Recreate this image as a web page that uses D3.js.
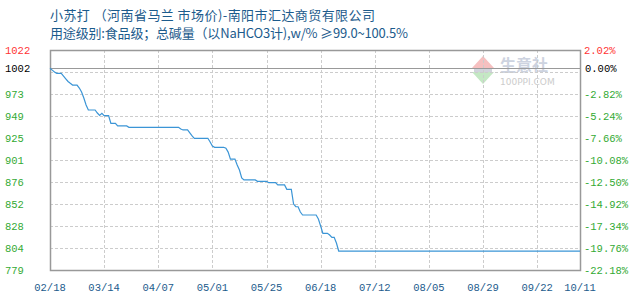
<!DOCTYPE html>
<html>
<head>
<meta charset="utf-8">
<script src="https://cdn.jsdelivr.net/npm/d3@7"></script>
<style>
  html, body { margin: 0; padding: 0; background: #fff; }
  svg { display: block; }
  .title { font-family: "Noto Sans CJK SC", sans-serif; font-size: 13px; fill: #1c5b8c; }
  .num { font-family: "Liberation Mono", "DejaVu Sans Mono", monospace; font-size: 10.5px; }
</style>
</head>
<body>
<svg id="chart" width="630" height="300"></svg>
<script>
// Title lines
const titleLines = [
    '小苏打 （河南省马兰 市场价)-南阳市汇达商贸有限公司',
    '用途级别:食品级；总碱量（以NaHCO3计),w/% ≥99.0~100.5%'
];
const titleWidths = [325, 358];

// Price series (month-day, year 2019)
const dates = ['02-18','02-19','02-20','02-21','02-23','02-24','02-25','02-26','02-27','02-28',
    '03-02','03-03','03-04','03-05','03-06','03-07','03-10','03-11','03-12','03-13','03-14','03-16','03-17','03-19','03-20','03-24','03-25',
    '04-16','04-17','04-18','04-20','04-21','04-22','04-23','04-29','04-30',
    '05-01','05-02','05-06','05-07','05-08','05-09','05-11','05-12','05-13','05-14','05-15','05-20','05-21','05-25','05-26','05-29','05-30',
    '06-02','06-03','06-05','06-06','06-07','06-08','06-09','06-10','06-16','06-17','06-18','06-19','06-21','06-22','06-23','06-24','06-25','06-26',
    '10-11'];
const prices = [1002, 1000, 998, 996.5, 996.5, 993.5, 990.5, 987.5, 985.5, 983.6,
    983.6, 980.3, 976, 969.3, 961.6, 956.1, 956.1, 952.8, 950.2, 952.4, 949.8, 949.8, 941.4, 941.4, 938.5, 938.5, 937.0,
    937.0, 935.2, 934.1, 934.1, 930.8, 927.5, 924.9, 924.9, 920.8,
    916.4, 915.0, 915.0, 913.9, 909.7, 902, 902, 895.5, 890, 881.2, 879, 879, 877.5, 877.5, 876, 876, 873.5,
    873.5, 868.7, 868.7, 852.5, 849.5, 849.5, 843.7, 840.4, 840.4, 836, 828.3, 820.2, 820.2, 818.4, 815.8, 815.8, 809.5, 800.7,
    800.7];

// Axis labels
const xTickLabels = ['02/18','03/14','04/07','05/01','05/25','06/18','07/12','08/05','08/29','09/22','10/11'];
const baseValue = 1002;
const yMin = 779.8;
const yMax = 1022.2;
const yTickCount = 10;

const year = 2019;
const parse = d3.timeParse('%Y-%m-%d');
const series = dates.map((d, i) => ({ date: parse(`${year}-${d}`), value: prices[i] }));
const xTicks = xTickLabels.map(s => parse(`${year}-${s.replace('/', '-')}`));

const svg = d3.select('#chart');
const margin = { left: 50, right: 50, top: 50, bottom: 30 };
const width = 630, height = 300;
const innerRight = width - margin.right;
const innerBottom = height - margin.bottom;

const x = d3.scaleTime()
    .domain([xTicks[0], xTicks[xTicks.length - 1]])
    .range([margin.left, innerRight]);
const y = d3.scaleLinear()
    .domain([yMin, yMax])
    .range([innerBottom, margin.top]);

const yTicks = d3.range(yTickCount + 1).map(i => yMin + (yMax - yMin) * i / yTickCount);

// Titles
svg.selectAll('.title')
    .data(titleLines)
    .enter()
    .append('text')
    .attr('class', 'title')
    .attr('x', 50)
    .attr('y', (d, i) => 20 + i * 18)
    .attr('textLength', (d, i) => titleWidths[i])
    .attr('lengthAdjust', 'spacing')
    .text(d => d);

// Watermark
const wm = svg.append('g').attr('transform', 'translate(472,56)');
wm.append('path').attr('d', 'M0,12 L11,0 L22,12 Z').attr('fill', '#f6c0c0');
wm.append('rect').attr('x', 2).attr('y', 12).attr('width', 18).attr('height', 4).attr('fill', '#d0d4dc');
wm.append('path').attr('d', 'M0,16 L11,28 L22,16 Z').attr('fill', '#c4e8c4');
wm.append('text').attr('x', 28).attr('y', 15)
    .style('font-family', '"Noto Sans CJK SC", sans-serif').style('font-size', '16px')
    .style('font-weight', 'bold').attr('fill', '#cdd3e0').text('生意社');
wm.append('text').attr('x', 28).attr('y', 29)
    .style('font-family', '"DejaVu Sans", sans-serif').style('font-size', '9px')
    .attr('fill', '#cccccc').text('100PPI.COM');

// Grid
const grid = svg.append('g');
grid.selectAll('.hgrid')
    .data(yTicks.slice(1, -1))
    .enter()
    .append('line')
    .attr('x1', margin.left).attr('x2', innerRight)
    .attr('y1', d => Math.round(y(d)) + 0.5).attr('y2', d => Math.round(y(d)) + 0.5)
    .attr('stroke', '#cccccc').attr('stroke-dasharray', '3,2');
grid.selectAll('.vgrid')
    .data(xTicks.slice(1, -1))
    .enter()
    .append('line')
    .attr('x1', d => Math.round(x(d)) + 0.5).attr('x2', d => Math.round(x(d)) + 0.5)
    .attr('y1', margin.top).attr('y2', innerBottom)
    .attr('stroke', '#cccccc').attr('stroke-dasharray', '3,2');

// Base line
svg.append('line')
    .attr('x1', margin.left).attr('x2', innerRight)
    .attr('y1', Math.round(y(baseValue)) + 0.5).attr('y2', Math.round(y(baseValue)) + 0.5)
    .attr('stroke', '#999999');

// Frame
svg.append('rect')
    .attr('x', margin.left + 0.5).attr('y', margin.top + 0.5)
    .attr('width', innerRight - margin.left).attr('height', innerBottom - margin.top)
    .attr('fill', 'none').attr('stroke', '#999999').attr('stroke-width', 1.5);

// Price line
svg.append('path')
    .datum(series)
    .attr('fill', 'none')
    .attr('stroke', '#3b95d6')
    .attr('stroke-width', 1.2)
    .attr('d', d3.line().x(d => x(d.date)).y(d => y(d.value)));

// Left labels
const leftLabels = [{ v: yMax, text: '1022', color: '#ff3333' }, { v: baseValue, text: '1002', color: '#000' }]
    .concat(yTicks.slice(0, -2).map(v => ({ v, text: String(Math.floor(v)), color: '#33aa33' })));
svg.selectAll('.ylab')
    .data(leftLabels)
    .enter()
    .append('text')
    .attr('class', 'num')
    .attr('x', 5)
    .attr('y', d => y(d.v) + 4)
    .attr('fill', d => d.color)
    .text(d => d.text);

// Right labels (percent change vs base)
const pct = v => d3.format('.2f')((v - baseValue) / baseValue * 100) + '%';
const rightLabels = [{ v: yMax, color: '#ff3333' }, { v: baseValue, color: '#000' }]
    .concat(yTicks.slice(0, -2).map(v => ({ v, color: '#33aa33' })));
svg.selectAll('.rlab')
    .data(rightLabels)
    .enter()
    .append('text')
    .attr('class', 'num')
    .attr('x', d => d.v === baseValue ? 585 : 584)
    .attr('y', d => y(d.v) + 4)
    .attr('fill', d => d.color)
    .text(d => d.v === baseValue ? '0.00%' : pct(d.v).replace('\u2212', '-'));

// X labels
svg.selectAll('.xlab')
    .data(xTicks)
    .enter()
    .append('text')
    .attr('class', 'num')
    .attr('x', d => x(d))
    .attr('y', 291)
    .attr('text-anchor', 'middle')
    .attr('fill', '#1c5b8c')
    .text((d, i) => xTickLabels[i]);
</script>
</body>
</html>
